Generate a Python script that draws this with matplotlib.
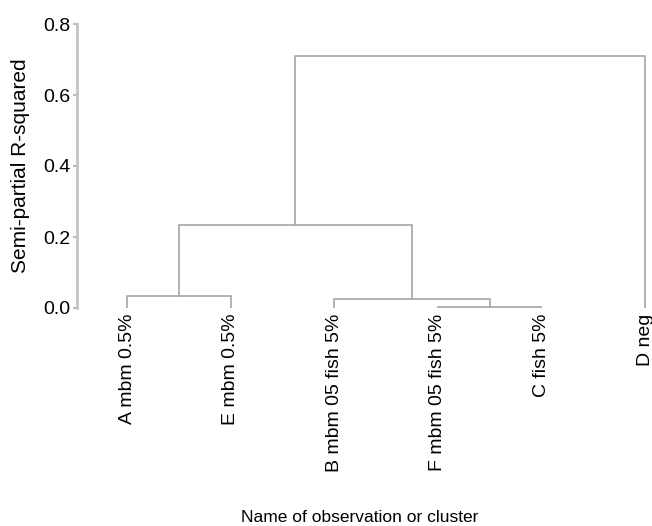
import matplotlib.pyplot as plt

# leaves in dendrogram order
leaves = ['A mbm 0.5%', 'E mbm 0.5%', 'B mbm 05 fish 5%', 'F mbm 05 fish 5%', 'C fish 5%', 'D neg']
# merges: (left node, right node, semi-partial R-squared); nodes >= 6 are earlier merges
merges = [(0, 1, 0.034),
          (3, 4, 0.004),
          (2, 7, 0.025),
          (6, 8, 0.234),
          (9, 5, 0.71)]
y_ticks = [0.0, 0.2, 0.4, 0.6, 0.8]

line_col = '#a6a6a6'
plt.rcParams['font.family'] = ['Liberation Sans', 'DejaVu Sans']

fig = plt.figure(figsize=(6.52, 5.26), dpi=100)
ax = fig.add_axes([77 / 652, 1 - 308 / 526, 573 / 652, 284 / 526])

pos = {i: float(i) for i in range(len(leaves))}
hgt = {i: 0.0 for i in range(len(leaves))}
for k, (a, b, h) in enumerate(merges):
    node = len(leaves) + k
    ax.plot([pos[a], pos[a], pos[b], pos[b]], [hgt[a], h, h, hgt[b]],
            color=line_col, lw=1.2, solid_joinstyle='miter')
    pos[node] = (pos[a] + pos[b]) / 2
    hgt[node] = h

ax.set_xlim(-0.483, 5.048)
ax.set_ylim(0, 0.8)
ax.set_yticks(y_ticks)
ax.set_yticklabels(['%.1f' % t for t in y_ticks], fontsize=14)
ax.set_xticks(range(len(leaves)))
ax.set_xticklabels(leaves, rotation=90, fontsize=14)
ax.tick_params(axis='x', length=0, pad=4)
ax.tick_params(axis='y', length=3, color='#bbbbbb', width=1.5, pad=2)

for s in ['top', 'right', 'bottom']:
    ax.spines[s].set_visible(False)
ax.spines['left'].set_color('#c4c4c4')
ax.spines['left'].set_linewidth(2)

ax.set_ylabel('Semi-partial R-squared', fontsize=15, labelpad=9)
fig.text(360 / 652, 1 - 518 / 526, 'Name of observation or cluster',
         ha='center', va='center', fontsize=12.5)

fig.savefig('out.png', dpi=100)
